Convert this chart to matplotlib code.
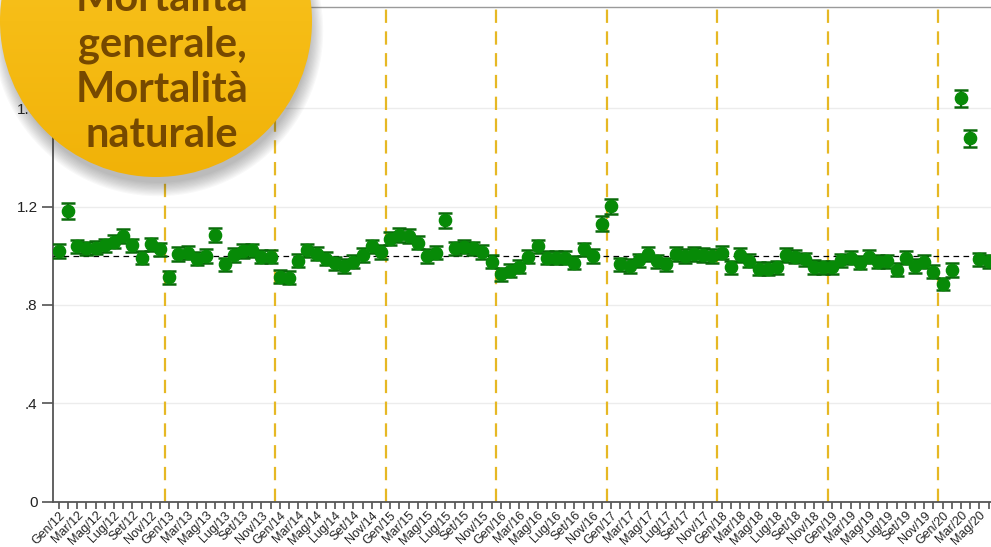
import numpy as np
import matplotlib.pyplot as plt
from matplotlib.patches import Circle
from matplotlib.colors import LinearSegmentedColormap

# mesi da Gen/12 a Giu/20
mesi = ['Gen', 'Feb', 'Mar', 'Apr', 'Mag', 'Giu', 'Lug', 'Ago', 'Set', 'Ott', 'Nov', 'Dic']
anni = ['12', '13', '14', '15', '16', '17', '18', '19', '20']

rapporto = [
    1.020, 1.182, 1.039, 1.030, 1.033, 1.043, 1.057, 1.081, 1.043, 0.993, 1.046, 1.026,  # 2012
    0.912, 1.007, 1.012, 0.989, 0.999, 1.084, 0.966, 1.003, 1.020, 1.023, 0.996, 0.996,  # 2013
    0.915, 0.911, 0.980, 1.023, 1.009, 0.989, 0.969, 0.958, 0.976, 1.003, 1.039, 1.016,  # 2014
    1.070, 1.084, 1.080, 1.054, 0.999, 1.012, 1.145, 1.030, 1.037, 1.030, 1.016, 0.976,  # 2015
    0.924, 0.939, 0.955, 0.996, 1.039, 0.992, 0.992, 0.992, 0.972, 1.026, 0.999, 1.131,  # 2016
    1.202, 0.966, 0.958, 0.982, 1.007, 0.978, 0.966, 1.007, 0.999, 1.007, 1.003, 0.999,  # 2017
    1.012, 0.953, 1.003, 0.980, 0.948, 0.948, 0.953, 1.003, 0.996, 0.985, 0.955, 0.953,  # 2018
    0.953, 0.982, 0.993, 0.972, 0.996, 0.976, 0.978, 0.944, 0.993, 0.958, 0.976, 0.936,  # 2019
    0.885, 0.942, 1.640, 1.478, 0.985, 0.978,                                            # 2020
]

semi_ic = [
    0.027, 0.033, 0.027, 0.027, 0.027, 0.027, 0.027, 0.028, 0.027, 0.027, 0.027, 0.027,
    0.026, 0.027, 0.027, 0.027, 0.027, 0.028, 0.027, 0.027, 0.027, 0.027, 0.027, 0.027,
    0.026, 0.026, 0.027, 0.027, 0.027, 0.027, 0.027, 0.027, 0.027, 0.027, 0.027, 0.027,
    0.028, 0.028, 0.028, 0.027, 0.027, 0.027, 0.030, 0.027, 0.027, 0.027, 0.027, 0.027,
    0.026, 0.026, 0.026, 0.027, 0.027, 0.027, 0.027, 0.027, 0.027, 0.027, 0.027, 0.029,
    0.030, 0.027, 0.027, 0.027, 0.027, 0.027, 0.027, 0.027, 0.027, 0.027, 0.027, 0.027,
    0.027, 0.027, 0.027, 0.027, 0.027, 0.027, 0.027, 0.027, 0.027, 0.027, 0.027, 0.027,
    0.027, 0.027, 0.027, 0.027, 0.027, 0.027, 0.027, 0.027, 0.027, 0.027, 0.027, 0.027,
    0.026, 0.027, 0.036, 0.035, 0.027, 0.027,
]

y_ticks = [0, 0.4, 0.8, 1.2, 1.6]
y_labels = ['0', '.4', '.8', '1.2', '1.6']

titolo = ['Mortalità', 'generale,', 'Mortalità', 'naturale']

W, H = 991, 547
fig = plt.figure(figsize=(W / 100, H / 100), dpi=100)
fig.patch.set_facecolor('white')

# asse principale (si estende oltre il bordo destro, come nel ritaglio)
x0_px, x_step = 58.8, 9.207
left_px, right_px = 53, 1002.5
y0_px, top_px = 501.7, 7
ax = fig.add_axes([left_px / W, (H - y0_px) / H, (right_px - left_px) / W, (y0_px - top_px) / H])
ax.set_xlim((left_px - x0_px) / x_step, (right_px - x0_px) / x_step)
ax.set_ylim(0, (y0_px - top_px) / 245.9)

x = np.arange(len(rapporto))
ax.errorbar(x, rapporto, yerr=semi_ic, fmt='o', color='#078A07', ecolor='#0A6A0A',
            ms=8.8, mec='#078A07', capsize=4.8, elinewidth=1.6, capthick=1.8, zorder=4)

ax.axhline(1, color='black', lw=0.9, ls=(0, (4.5, 3.5)), zorder=3)
for k in range(1, len(anni)):
    ax.axvline(12 * k - 0.5, color='#E6B824', lw=1.6, ls=(0, (6, 3.8)), zorder=2)

ax.set_yticks(y_ticks)
ax.set_yticklabels(y_labels, fontsize=11, family='Liberation Sans', color='#222222')
ax.yaxis.grid(True, color='#ECECEC', lw=1)
ax.set_axisbelow(True)

etichette = []
for a in anni:
    for m in mesi:
        etichette.append(m + '/' + a)
etichette = etichette[:len(rapporto)]
ax.set_xticks(x)
ax.set_xticklabels([e if i % 2 == 0 else '' for i, e in enumerate(etichette)],
                   rotation=45, ha='right', rotation_mode='anchor',
                   fontsize=9, family='Liberation Sans', color='#222222')
ax.tick_params(axis='x', length=5, width=1.1, color='#444444', pad=0.5)
ax.tick_params(axis='y', length=8, width=1.1, color='#444444', pad=3)

for s in ['left', 'bottom']:
    ax.spines[s].set_color('#555555')
    ax.spines[s].set_linewidth(1.3)
ax.spines['top'].set_color('#9A9A9A')
ax.spines['top'].set_linewidth(1.0)
ax.spines['right'].set_visible(False)

# bollo giallo in alto a sinistra
ov = fig.add_axes([0, 0, 1, 1])
ov.set_xlim(0, W)
ov.set_ylim(H, 0)
ov.axis('off')
ov.patch.set_alpha(0)

cx, cy, r = 156, 21, 156
for k in range(12):
    ov.add_patch(Circle((cx + 2, cy + 10), r - 4 + k * 1.2, color='#3A3A3A',
                        alpha=0.03, lw=0))
circ = Circle((cx, cy), r, transform=ov.transData, facecolor='none', lw=0)
ov.add_patch(circ)
cmap = LinearSegmentedColormap.from_list('oro', ['#FAC82A', '#F6BD16', '#F1B208'])
grad = np.linspace(0, 1, 256).reshape(-1, 1)
img = ov.imshow(grad, extent=[cx - r, cx + r, cy + r, cy - r], cmap=cmap,
                aspect='auto', zorder=2)
img.set_clip_path(circ)

baselines = [11, 57, 102, 147]
for t, b in zip(titolo, baselines):
    ov.text(162, b, t, ha='center', va='baseline', fontsize=30, fontweight='bold',
            family='Lato', color='#764900', zorder=3)

fig.savefig('out.png', dpi=100)
